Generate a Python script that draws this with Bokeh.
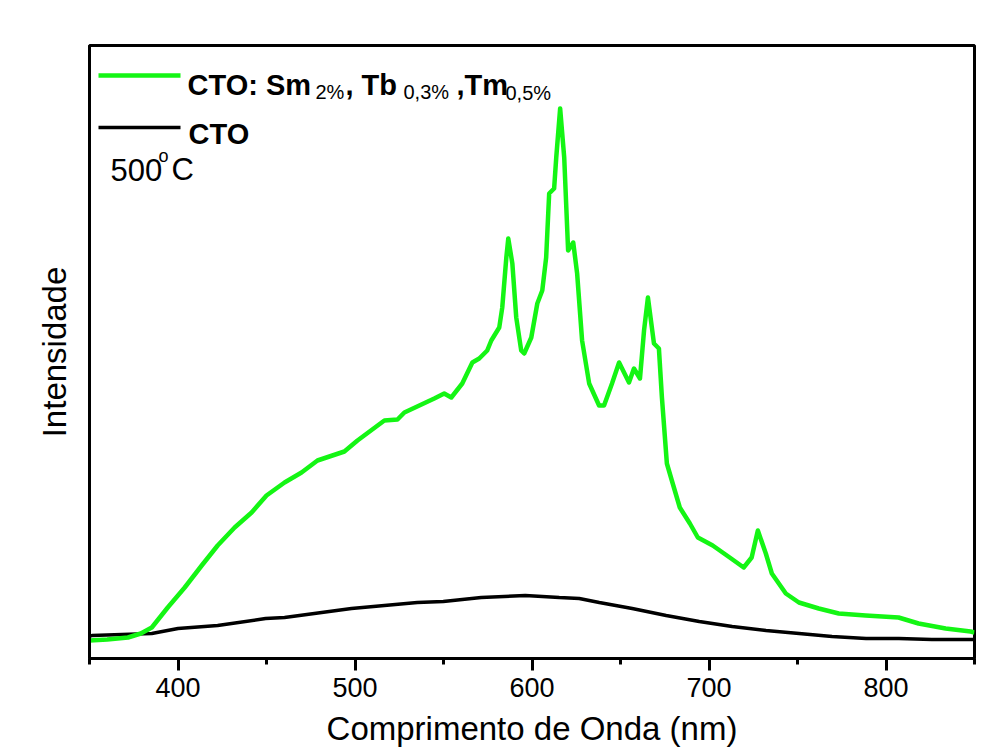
from bokeh.plotting import figure
from bokeh.models import Range1d, FixedTicker, Label
from bokeh.embed import file_html
from bokeh.resources import INLINE

# Emission spectra (arbitrary intensity units)
wavelength_doped = [350, 360, 371.7, 379, 385.2, 394.2, 403.8, 413.4, 422.4, 432, 441.6,
                    450, 460.2, 469.8, 478.8, 494, 501.4, 516.6, 524, 527.9, 544.8,
                    550.4, 554.4, 560.6, 566.3, 570.2, 574.7, 577, 581.5, 583.2, 585.5,
                    586.6, 588.9, 591.1, 593.9, 595.6, 599.6, 603, 605.8, 608, 609.7,
                    612.5, 613.7, 615.9, 618.2, 620.4, 623.3, 625.5, 628.3, 632.3, 637.9,
                    640.7, 645.2, 649.2, 654.8, 657.6, 661, 663.3, 665.5, 668.9, 671.7,
                    673.4, 676.2, 679, 683.5, 689.2, 693.7, 702.1, 711.7, 719.6, 724.1,
                    727.6, 732.1, 735.5, 743.4, 750.8, 762, 773.3, 788.5, 807.1, 818.4,
                    833.7, 847.8, 850]
intensity_doped = [18, 19, 21, 25, 31, 51, 71, 93, 113, 131, 146,
                   163, 176, 186, 198, 207, 218, 238, 239, 246, 260,
                   265, 261, 275, 296, 300, 308, 318, 331, 351, 401,
                   420, 395, 341, 308, 305, 321, 355, 368, 401, 465,
                   470, 501, 550, 501, 408, 416, 385, 318, 275, 253,
                   253, 275, 296, 276, 290, 280, 328, 361, 315, 310,
                   261, 195, 178, 151, 135, 121, 113, 101, 91, 101,
                   128, 105, 85, 65, 56, 50, 45, 43, 41, 35,
                   30, 27, 26]

wavelength_cto = [350, 351.4, 385.2, 400, 422.4, 449.5, 460.2, 498, 535.2, 549.9,
                  571.3, 596.2, 615.4, 626.7, 638, 656.6, 675.8, 694.5, 713.1, 732.2,
                  750.9, 769.5, 788.7, 807.3, 825.9, 846.8, 850]
intensity_cto = [22, 23, 25, 30, 33, 40, 41, 50, 56, 57,
                 61, 63, 61, 60, 56, 50, 43, 37, 32, 28,
                 25, 22, 20, 20, 19, 19, 19]

x_ticks = [400, 500, 600, 700, 800]
x_minor_ticks = [350, 450, 550, 650, 750, 850]

X_START, X_END = 350, 850
Y_START, Y_END = 0, 613

# frame geometry in canvas pixels, used to place the annotation block
FRAME_L, FRAME_R, FRAME_T, FRAME_B = 89, 974, 45, 658


def sx(px):
    return X_START + (px - FRAME_L) * (X_END - X_START) / (FRAME_R - FRAME_L)


def sy(py):
    return Y_START + (FRAME_B - py) * (Y_END - Y_START) / (FRAME_B - FRAME_T)


GREEN = "#14f514"
FONT = "Liberation Sans"

p = figure(width=992, height=749, output_backend="svg", toolbar_location=None,
           x_range=Range1d(X_START, X_END), y_range=Range1d(Y_START, Y_END),
           min_border_left=FRAME_L, min_border_right=992 - FRAME_R,
           min_border_top=FRAME_T, min_border_bottom=749 - FRAME_B)

p.background_fill_color = "white"
p.border_fill_color = "white"
p.grid.visible = False
p.outline_line_color = "black"
p.outline_line_width = 3

p.line(wavelength_cto, intensity_cto, line_color="black", line_width=3.5)
p.line(wavelength_doped, intensity_doped, line_color=GREEN, line_width=4.5,
       line_join="round")

# x axis
xa = p.xaxis[0]
xa.ticker = FixedTicker(ticks=x_ticks, minor_ticks=x_minor_ticks)
xa.axis_line_width = 3
xa.major_tick_line_width = 3
xa.minor_tick_line_width = 3
xa.major_tick_in = 0
xa.major_tick_out = 12
xa.minor_tick_in = 0
xa.minor_tick_out = 6
xa.major_label_text_font = FONT
xa.major_label_text_font_size = "27px"
xa.major_label_text_color = "black"
xa.major_label_standoff = 7
xa.axis_label = "Comprimento de Onda (nm)"
xa.axis_label_text_font = FONT
xa.axis_label_text_font_size = "33px"
xa.axis_label_text_font_style = "normal"
xa.axis_label_text_color = "black"
xa.axis_label_standoff = 10

# y axis: label only
ya = p.yaxis[0]
ya.ticker = FixedTicker(ticks=[])
ya.axis_line_width = 3
ya.major_tick_out = 0
ya.major_tick_in = 0
ya.minor_tick_out = 0
ya.minor_tick_in = 0
ya.major_label_text_font_size = "0px"
ya.axis_label = "Intensidade"
ya.axis_label_text_font = FONT
ya.axis_label_text_font_size = "33px"
ya.axis_label_text_font_style = "normal"
ya.axis_label_text_color = "black"
ya.axis_label_standoff = 17

# legend keys
p.line([sx(98), sx(180)], [sy(75), sy(75)], line_color=GREEN, line_width=4.5)
p.line([sx(98), sx(180)], [sy(127), sy(127)], line_color="black", line_width=3.5)


def add_text(px, py, text, size, bold=False):
    p.add_layout(Label(x=sx(px), y=sy(py), text=text, text_font=FONT,
                       text_font_size=size,
                       text_font_style="bold" if bold else "normal",
                       text_color="black", text_align="left",
                       text_baseline="alphabetic"))


add_text(187, 84, "CTO: Sm", "29px", True)
add_text(315, 91, "2%", "20px")
add_text(345, 84, ", Tb", "29px", True)
add_text(403, 91, "0,3%", "20px")
add_text(456, 84, ",Tm", "29px", True)
add_text(505, 92, "0,5%", "20px")
add_text(188, 133, "CTO", "29px", True)
add_text(110, 169, "500", "31px")
add_text(158, 155, "o", "18px")
add_text(171, 169, "C", "31px")

open("out.html", "w").write(file_html(p, INLINE))
